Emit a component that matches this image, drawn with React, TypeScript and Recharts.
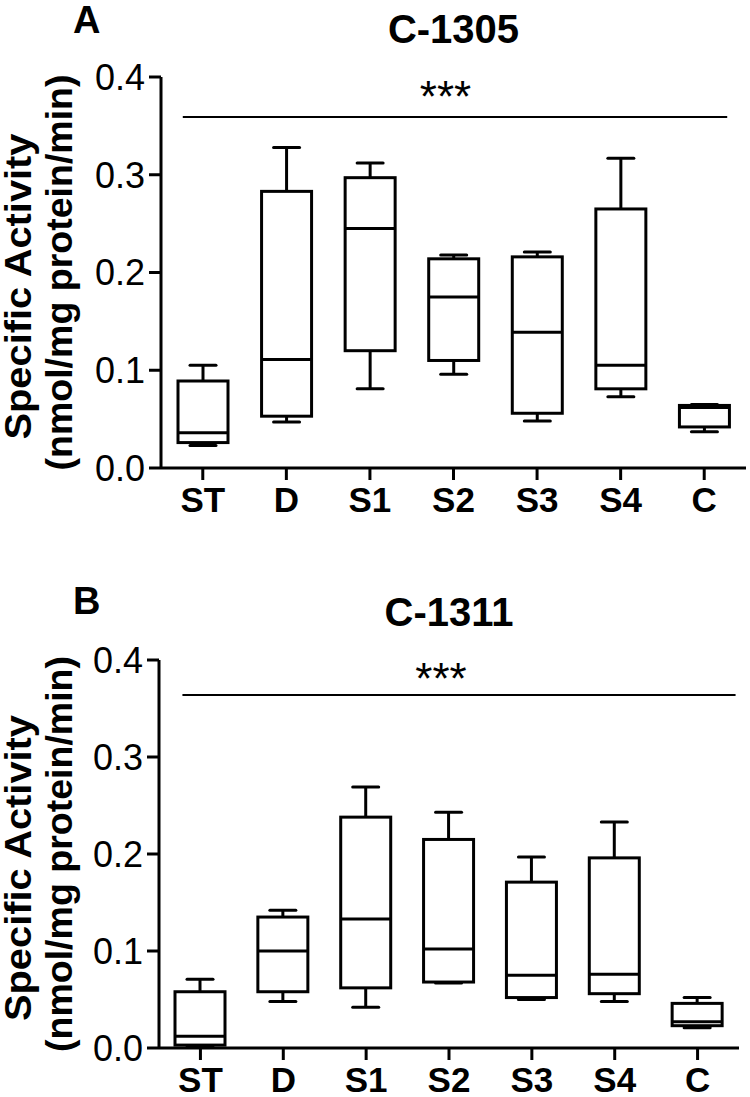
import { Bar, ComposedChart, ReferenceLine, XAxis, YAxis } from 'recharts';

const FONT = '"Liberation Sans", Arial, Helvetica, sans-serif';

const groups = ['ST', 'D', 'S1', 'S2', 'S3', 'S4', 'C'];
const yTicks = [0, 0.1, 0.2, 0.3, 0.4];

// A: C-1305
const minA = [0.023, 0.047, 0.081, 0.096, 0.048, 0.073, 0.037];
const q1A = [0.026, 0.053, 0.12, 0.11, 0.056, 0.081, 0.042];
const medA = [0.036, 0.111, 0.245, 0.175, 0.139, 0.105, 0.062];
const q3A = [0.089, 0.283, 0.297, 0.214, 0.216, 0.265, 0.064];
const maxA = [0.105, 0.328, 0.312, 0.218, 0.221, 0.317, 0.065];
const sigA = 0.359;

// B: C-1311
const minB = [0.001, 0.048, 0.042, 0.067, 0.05, 0.048, 0.021];
const q1B = [0.003, 0.058, 0.062, 0.068, 0.052, 0.056, 0.023];
const medB = [0.012, 0.1, 0.133, 0.102, 0.075, 0.076, 0.027];
const q3B = [0.058, 0.135, 0.238, 0.215, 0.171, 0.196, 0.046];
const maxB = [0.071, 0.142, 0.269, 0.243, 0.197, 0.233, 0.052];
const sigB = 0.364;

const makeRows = (mn: number[], q1: number[], md: number[], q3: number[], mx: number[]) =>
  groups.map((g, i) => ({
    group: g,
    min: mn[i],
    q1: q1[i],
    med: md[i],
    q3: q3[i],
    max: mx[i],
    range: [mn[i], mx[i]],
  }));

const rowsA = makeRows(minA, q1A, medA, q3A, maxA);
const rowsB = makeRows(minB, q1B, medB, q3B, maxB);

// box drawn inside the range bar (min..max), inner values placed on the same scale
const BoxShape = (props: any) => {
  const { x, y, width, height, payload } = props;
  const { min, q1, med, q3, max } = payload;
  const top = Math.min(y, y + height);
  const h = Math.abs(height);
  const py = (v: number) => (max === min ? top : top + ((max - v) / (max - min)) * h);
  const cx = x + width / 2;
  const cap = width * 0.26;
  const s = { stroke: '#000', strokeWidth: 3, fill: 'none' };
  return (
    <g>
      <line x1={cx} x2={cx} y1={py(max)} y2={py(q3)} {...s} />
      <line x1={cx} x2={cx} y1={py(q1)} y2={py(min)} {...s} />
      <line x1={cx - cap} x2={cx + cap} y1={py(max)} y2={py(max)} {...s} strokeLinecap="round" />
      <line x1={cx - cap} x2={cx + cap} y1={py(min)} y2={py(min)} {...s} strokeLinecap="round" />
      <rect x={x} y={py(q3)} width={width} height={py(q1) - py(q3)} {...s} fill="#fff" />
      <line x1={x} x2={x + width} y1={py(med)} y2={py(med)} {...s} />
    </g>
  );
};

type PanelProps = {
  rows: any[];
  sig: number;
  letter: string;
  title: string;
  height: number;
  margin: { top: number; right: number; bottom: number; left: number };
  yWidth: number;
  xHeight: number;
  letterY: number;
  titleY: number;
  extL: number;
  extR: number;
  starGap: number;
};

function Panel(p: PanelProps) {
  const renderLabels = (lp: any) => {
    const vb = lp.viewBox || {};
    const cy = vb.y + vb.height / 2;
    const plotMid = (p.yWidth + 750 - p.margin.right) / 2;
    return (
      <g fontFamily={FONT} fill="#000">
        <text x={73} y={p.letterY} fontSize={38} fontWeight="bold">
          {p.letter}
        </text>
        <text x={plotMid} y={p.titleY} fontSize={40} fontWeight="bold" textAnchor="middle">
          {p.title}
        </text>
        <text
          x={31}
          y={cy + 14}
          fontSize={36}
          fontWeight="bold"
          textAnchor="middle"
          textLength={306}
          lengthAdjust="spacingAndGlyphs"
          transform={`rotate(-90, 31, ${cy + 14})`}
        >
          Specific Activity
        </text>
        <text
          x={72}
          y={cy}
          fontSize={36}
          fontWeight="bold"
          textAnchor="middle"
          textLength={396}
          lengthAdjust="spacingAndGlyphs"
          transform={`rotate(-90, 72, ${cy})`}
        >
          (nmol/mg protein/min)
        </text>
      </g>
    );
  };

  const sigShape = (sp: any) => {
    const x1 = sp.x1 - p.extL;
    const x2 = sp.x2 + p.extR;
    return (
      <g>
        <line x1={x1} x2={x2} y1={sp.y1} y2={sp.y2} stroke="#000" strokeWidth={2} />
        <text
          x={(sp.x1 + sp.x2) / 2 - 8}
          y={sp.y1 - p.starGap}
          fontSize={44}
          fontFamily={FONT}
          textAnchor="middle"
          fill="#000"
        >
          ***
        </text>
      </g>
    );
  };

  return (
    <ComposedChart width={750} height={p.height} data={p.rows} margin={p.margin}>
      <XAxis
        dataKey="group"
        height={p.xHeight}
        axisLine={{ stroke: '#000', strokeWidth: 3 }}
        tickLine={{ stroke: '#000', strokeWidth: 3 }}
        tickSize={12}
        tickMargin={7}
        tick={{ fill: '#000', fontSize: 35, fontWeight: 'bold', fontFamily: FONT }}
        interval={0}
      />
      <YAxis
        type="number"
        domain={[0, 0.4]}
        ticks={yTicks}
        width={p.yWidth}
        axisLine={{ stroke: '#000', strokeWidth: 3 }}
        tickLine={{ stroke: '#000', strokeWidth: 3 }}
        tickSize={12}
        tickMargin={4}
        tick={{ fill: '#000', fontSize: 36, fontFamily: FONT }}
        tickFormatter={(v: number) => v.toFixed(1)}
        label={renderLabels}
      />
      <ReferenceLine
        segment={[
          { x: 'ST', y: p.sig },
          { x: 'C', y: p.sig },
        ]}
        shape={sigShape}
        ifOverflow="visible"
      />
      <Bar dataKey="range" barSize={50} shape={BoxShape} isAnimationActive={false} />
    </ComposedChart>
  );
}

export default function App() {
  return (
    <div style={{ position: 'absolute', left: 0, top: 0, width: 750, height: 1097, background: '#fff' }}>
      <Panel
        rows={rowsA}
        sig={sigA}
        letter="A"
        title="C-1305"
        height={540}
        margin={{ top: 77, right: 4, bottom: 12, left: 0 }}
        yWidth={161}
        xHeight={60}
        letterY={33}
        titleY={43}
        extL={20}
        extR={23}
        starGap={5}
      />
      <Panel
        rows={rowsB}
        sig={sigB}
        letter="B"
        title="C-1311"
        height={557}
        margin={{ top: 120, right: 11, bottom: 0, left: 0 }}
        yWidth={159}
        xHeight={49}
        letterY={74}
        titleY={86}
        extL={18}
        extR={38}
        starGap={1}
      />
    </div>
  );
}
